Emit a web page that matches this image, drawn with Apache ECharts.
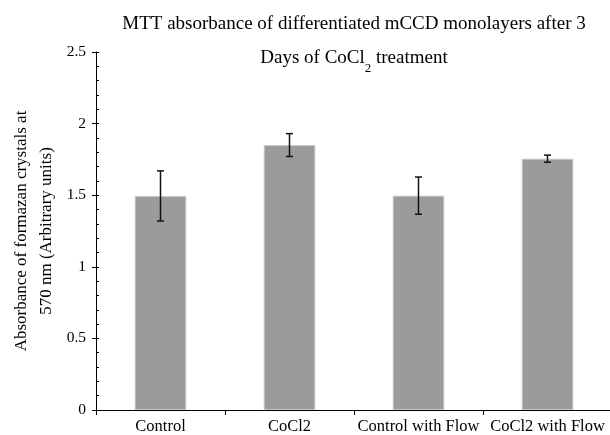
<!DOCTYPE html>
<html>
<head>
<meta charset="utf-8">
<script src="https://cdn.jsdelivr.net/npm/echarts@6/dist/echarts.min.js"></script>
<style>
    html, body { margin: 0; padding: 0; background: #fff; }
    #chart { width: 610px; height: 435px; }
</style>
</head>
<body>
<div id="chart"></div>
<script>
const categories = ["Control", "CoCl2", "Control with Flow", "CoCl2 with Flow"];
const means = [1.495, 1.85, 1.497, 1.755];
const errors = [0.175, 0.08, 0.13, 0.025];
const serif = "Liberation Serif";

const chart = echarts.init(document.getElementById("chart"));

// error bar data: [index, low, high]
let errData = means.map(function (m, i) {
    return [i, m - errors[i], m + errors[i]];
});

let option = {
    animation: false,
    textStyle: { fontFamily: serif, color: "#000" },
    title: {
        text: "{n|MTT absorbance of differentiated mCCD monolayers after 3}\n{n|Days of CoCl}{sub|2}{n| treatment}",
        left: 349,
        top: 2,
        textAlign: "center",
        textStyle: {
            fontFamily: serif,
            fontSize: 19,
            fontWeight: "normal",
            color: "#000",
            rich: {
                n: { fontFamily: serif, fontSize: 19, color: "#000", lineHeight: 34 },
                sub: { fontFamily: serif, fontSize: 13, color: "#000", lineHeight: 28, verticalAlign: "bottom" }
            }
        }
    },
    grid: { left: 96, right: -2, top: 52, bottom: 25, containLabel: false, outerBoundsMode: "none" },
    xAxis: {
        type: "category",
        data: categories,
        axisLine: { lineStyle: { color: "#000", width: 1 } },
        axisTick: { show: true, length: 5, lineStyle: { color: "#000" } },
        axisLabel: { fontFamily: serif, fontSize: 16.5, color: "#000", margin: 8, interval: 0 }
    },
    yAxis: [{
        type: "value",
        min: 0,
        max: 2.5,
        interval: 0.5,
        name: "Absorbance of formazan crystals at\n570 nm (Arbitrary units)",
        nameLocation: "middle",
        nameGap: 37,
        nameMoveOverlap: false,
        nameTextStyle: { fontFamily: serif, fontSize: 17, color: "#000", lineHeight: 25 },
        axisLine: { show: true, lineStyle: { color: "#000" } },
        axisTick: { show: true, length: 4, lineStyle: { color: "#000" } },
        splitLine: { show: false },
        axisLabel: { fontFamily: serif, fontSize: 15.5, color: "#000", margin: 10 }
    }, {
        type: "value",
        position: "left",
        min: 0,
        max: 2.5,
        interval: 0.1,
        axisLine: { show: false },
        axisTick: { show: true, inside: true, length: 3, lineStyle: { color: "#000" } },
        axisLabel: { show: false },
        splitLine: { show: false }
    }],
    series: [{
        type: "bar",
        data: means,
        barWidth: "40%",
        itemStyle: { color: "#9b9b9b", borderColor: "#c8c8c8", borderWidth: 1 },
        z: 2
    }, {
        type: "custom",
        data: errData,
        z: 3,
        renderItem: function (params, api) {
            let x = api.value(0);
            let lo = api.coord([x, api.value(1)]);
            let hi = api.coord([x, api.value(2)]);
            let hw = 3.5;
            let style = { stroke: "#111", lineWidth: 1.5 };
            return {
                type: "group",
                children: [
                    { type: "line", shape: { x1: hi[0], y1: hi[1], x2: lo[0], y2: lo[1] }, style: style },
                    { type: "line", shape: { x1: hi[0] - hw, y1: hi[1], x2: hi[0] + hw, y2: hi[1] }, style: style },
                    { type: "line", shape: { x1: lo[0] - hw, y1: lo[1], x2: lo[0] + hw, y2: lo[1] }, style: style }
                ]
            };
        }
    }]
};

chart.setOption(option);
</script>
</body>
</html>
